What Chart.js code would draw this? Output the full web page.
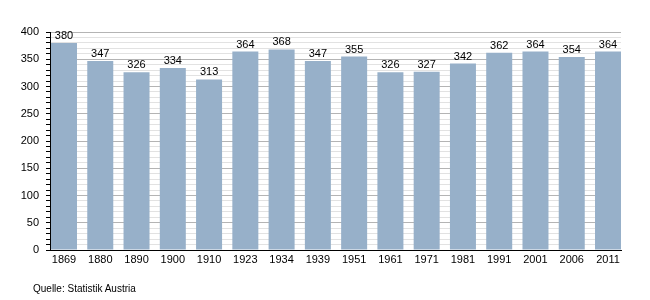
<!DOCTYPE html>
<html>
<head>
<meta charset="utf-8">
<script src="https://cdn.jsdelivr.net/npm/chart.js@4"></script>
<style>
  body { margin: 0; background: #fff; }
  #wrap { position: relative; width: 650px; height: 300px; }
  #source { position: absolute; left: 33px; top: 283px; font: 10px "Liberation Sans", Arial, sans-serif; color: #000; }
</style>
</head>
<body>
<div id="wrap">
  <canvas id="chart" width="650" height="300"></canvas>
  <div id="source">Quelle: Statistik Austria</div>
</div>
<script>
const years = ["1869", "1880", "1890", "1900", "1910", "1923", "1934", "1939", "1951", "1961", "1971", "1981", "1991", "2001", "2006", "2011"];
const population = [380, 347, 326, 334, 313, 364, 368, 347, 355, 326, 327, 342, 362, 364, 354, 364];
const yMax = 400;

// bars sit on a linear index axis so the first and last bar can touch the plot edges
const points = population.map((v, i) => ({ x: i, y: v }));

// values written above each bar
const valueLabels = {
  id: "valueLabels",
  afterDatasetsDraw(chart) {
    const ctx = chart.ctx;
    const meta = chart.getDatasetMeta(0);
    ctx.save();
    ctx.font = '11px "Liberation Sans", Arial, sans-serif';
    ctx.fillStyle = "#000";
    ctx.textAlign = "center";
    ctx.textBaseline = "alphabetic";
    meta.data.forEach((bar, i) => {
      ctx.fillText(population[i], bar.x, bar.y - 4);
    });
    ctx.restore();
  }
};

new Chart(document.getElementById("chart"), {
  type: "bar",
  data: {
    datasets: [{
      data: points,
      backgroundColor: "#97b0c9",
      borderWidth: 0,
      barPercentage: 0.717,
      categoryPercentage: 1
    }]
  },
  options: {
    responsive: false,
    animation: false,
    layout: { padding: { top: 32, right: 29, left: 0, bottom: 0 } },
    plugins: { legend: { display: false }, tooltip: { enabled: false } },
    scales: {
      x: {
        type: "linear",
        offset: false,
        min: -0.386,
        max: 15.358,
        afterFit: (scale) => { scale.height = 50; },
        grid: { display: false, drawTicks: false, offset: false },
        border: { display: true, color: "#000", width: 1 },
        ticks: {
          stepSize: 1,
          includeBounds: false,
          autoSkip: false,
          maxRotation: 0,
          color: "#000",
          font: { family: "Liberation Sans", size: 11 },
          padding: 3,
          callback: (v) => (Number.isInteger(v) ? years[v] : "")
        }
      },
      y: {
        min: 0,
        max: yMax,
        afterFit: (scale) => { scale.width = 50; },
        border: { display: true, color: "#000", width: 1 },
        grid: {
          color: (c) => (c.tick && c.tick.value % 50 === 0 ? "#b4b4b4" : "#e2e2e2"),
          tickColor: "#000",
          tickLength: 4
        },
        ticks: {
          stepSize: 10,
          autoSkip: false,
          color: "#000",
          font: { family: "Liberation Sans", size: 11 },
          padding: 7,
          callback: (v) => (v % 50 === 0 ? v : "")
        }
      }
    }
  },
  plugins: [valueLabels]
});
</script>
</body>
</html>
